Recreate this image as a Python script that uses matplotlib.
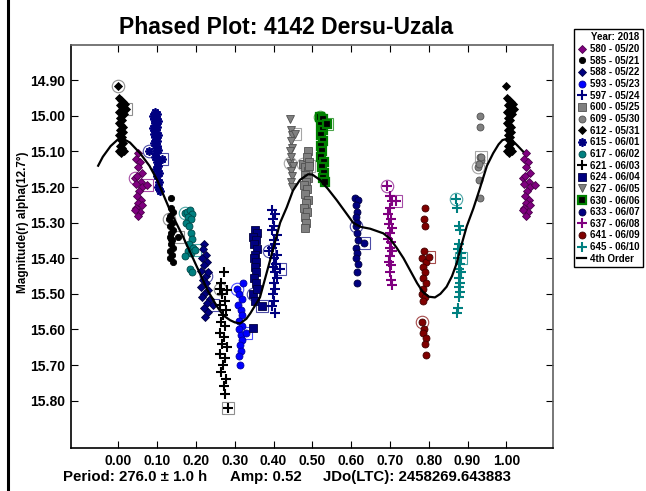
import matplotlib
matplotlib.use("Agg")
import matplotlib.pyplot as plt
from matplotlib.lines import Line2D

plt.rcParams["font.family"] = ["Liberation Sans", "DejaVu Sans"]
plt.rcParams["font.weight"] = "bold"

# -- data (phase, reduced magnitude) --
# first point of each session is the circled one, last point is the boxed one
p580 = [0.043, 0.050, 0.045, 0.055, 0.050, 0.060, 0.048, 0.058, 0.045, 0.060, 0.052, 0.048, 0.058, 0.050, 0.060, 0.045, 0.055, 0.050, 0.042, 0.074]
m580 = [15.175, 15.105, 15.120, 15.130, 15.145, 15.160, 15.170, 15.185, 15.190, 15.200, 15.210, 15.225, 15.235, 15.245, 15.250, 15.260, 15.270, 15.280, 15.265, 15.195]

p585 = [0.131, 0.137, 0.135, 0.140, 0.133, 0.138, 0.134, 0.140, 0.136, 0.132, 0.139, 0.135, 0.141, 0.134, 0.138, 0.133, 0.140, 0.136, 0.154]
m585 = [15.29, 15.23, 15.26, 15.27, 15.28, 15.30, 15.31, 15.32, 15.33, 15.34, 15.35, 15.36, 15.37, 15.38, 15.39, 15.40, 15.41, 15.345, 15.34]

p588 = [0.225, 0.222, 0.218, 0.225, 0.215, 0.228, 0.220, 0.212, 0.230, 0.218, 0.226, 0.214, 0.232, 0.222, 0.216, 0.235, 0.228, 0.220, 0.232, 0.224, 0.245]
m588 = [15.45, 15.36, 15.375, 15.39, 15.40, 15.41, 15.42, 15.435, 15.44, 15.46, 15.47, 15.48, 15.49, 15.50, 15.51, 15.515, 15.525, 15.54, 15.55, 15.565, 15.53]

p593 = [0.305, 0.322, 0.312, 0.318, 0.308, 0.315, 0.320, 0.310, 0.318, 0.312, 0.316, 0.320, 0.313, 0.317, 0.312, 0.314, 0.330]
m593 = [15.485, 15.47, 15.50, 15.515, 15.53, 15.545, 15.56, 15.575, 15.59, 15.60, 15.615, 15.63, 15.645, 15.66, 15.675, 15.70, 15.61]

p597 = [0.388, 0.395, 0.405, 0.398, 0.402, 0.396, 0.408, 0.400, 0.404, 0.397, 0.410, 0.401, 0.406, 0.399, 0.403, 0.408, 0.400, 0.405, 0.398, 0.402, 0.395, 0.405, 0.416]
m597 = [15.38, 15.265, 15.275, 15.29, 15.31, 15.32, 15.335, 15.35, 15.36, 15.37, 15.39, 15.40, 15.415, 15.425, 15.44, 15.455, 15.47, 15.485, 15.50, 15.52, 15.535, 15.555, 15.43]

p600 = [0.477, 0.490, 0.486, 0.492, 0.482, 0.488, 0.480, 0.490, 0.484, 0.478, 0.487, 0.481, 0.489, 0.483, 0.478, 0.486, 0.480, 0.484, 0.480, 0.492]
m600 = [15.135, 15.10, 15.115, 15.13, 15.145, 15.155, 15.165, 15.175, 15.185, 15.195, 15.205, 15.22, 15.235, 15.245, 15.26, 15.27, 15.285, 15.30, 15.315, 15.14]

p609 = [0.927, 0.932, 0.932, 0.932, 0.934, 0.930, 0.930, 0.932, 0.934]
m609 = [15.145, 15.00, 15.03, 15.115, 15.125, 15.135, 15.18, 15.23, 15.115]

p612 = [0.000, 0.002, 0.006, 0.012, 0.004, 0.010, 0.016, 0.002, 0.008, 0.014, 0.004, 0.010, 0.001, 0.007, 0.013, 0.005, 0.011, 0.003, 0.009, 0.006, 0.012, 0.004, 0.010, 0.002, 0.008, 0.015, 0.020]
m612 = [14.917, 14.950, 14.955, 14.960, 14.970, 14.975, 14.968, 14.990, 14.985, 14.995, 15.005, 15.012, 15.020, 15.025, 15.030, 15.040, 15.045, 15.055, 15.060, 15.068, 15.075, 15.085, 15.090, 15.100, 15.103, 15.100, 14.980]

p615 = [0.080, 0.095, 0.100, 0.090, 0.098, 0.092, 0.103, 0.095, 0.100, 0.090, 0.097, 0.093, 0.102, 0.095, 0.099, 0.092, 0.100, 0.096, 0.103, 0.098, 0.094, 0.105, 0.099, 0.102, 0.097, 0.104, 0.100, 0.106, 0.103, 0.108, 0.113]
m615 = [15.10, 14.99, 14.995, 15.00, 15.005, 15.01, 15.015, 15.02, 15.03, 15.035, 15.04, 15.05, 15.055, 15.06, 15.07, 15.075, 15.085, 15.09, 15.095, 15.105, 15.115, 15.125, 15.13, 15.14, 15.15, 15.16, 15.17, 15.185, 15.20, 15.21, 15.12]

p617 = [0.172, 0.178, 0.185, 0.190, 0.180, 0.188, 0.175, 0.182, 0.186, 0.190, 0.183, 0.192, 0.180, 0.188, 0.172, 0.185, 0.190, 0.198]
m617 = [15.274, 15.27, 15.265, 15.275, 15.285, 15.29, 15.30, 15.31, 15.33, 15.345, 15.36, 15.37, 15.38, 15.385, 15.395, 15.43, 15.44, 15.378]

p621 = [0.262, 0.273, 0.265, 0.280, 0.268, 0.275, 0.262, 0.278, 0.270, 0.265, 0.276, 0.262, 0.272, 0.268, 0.280, 0.262, 0.275, 0.270, 0.265, 0.278, 0.272, 0.276, 0.283]
m621 = [15.485, 15.44, 15.47, 15.49, 15.50, 15.52, 15.53, 15.545, 15.56, 15.58, 15.59, 15.61, 15.62, 15.64, 15.65, 15.67, 15.68, 15.70, 15.72, 15.74, 15.76, 15.78, 15.82]

p624 = [0.347, 0.352, 0.358, 0.348, 0.355, 0.350, 0.357, 0.352, 0.349, 0.356, 0.351, 0.355, 0.350, 0.354, 0.358, 0.353, 0.347, 0.370]
m624 = [15.50, 15.32, 15.33, 15.34, 15.35, 15.36, 15.375, 15.39, 15.40, 15.41, 15.425, 15.44, 15.455, 15.47, 15.485, 15.52, 15.597, 15.535]

p627 = [0.443, 0.442, 0.445, 0.448, 0.444, 0.447, 0.443, 0.446, 0.449, 0.444, 0.447, 0.445, 0.448, 0.455]
m627 = [15.133, 15.01, 15.04, 15.055, 15.07, 15.09, 15.10, 15.115, 15.14, 15.155, 15.17, 15.185, 15.20, 15.05]

p630 = [0.519, 0.527, 0.522, 0.528, 0.523, 0.527, 0.522, 0.526, 0.523, 0.529, 0.525, 0.530, 0.527, 0.532, 0.538]
m630 = [15.003, 15.01, 15.025, 15.04, 15.055, 15.07, 15.085, 15.10, 15.115, 15.13, 15.145, 15.16, 15.175, 15.185, 15.024]

p633 = [0.613, 0.610, 0.617, 0.612, 0.615, 0.613, 0.616, 0.614, 0.617, 0.612, 0.615, 0.613, 0.617, 0.615, 0.616, 0.633]
m633 = [15.31, 15.23, 15.235, 15.25, 15.27, 15.285, 15.30, 15.33, 15.35, 15.37, 15.385, 15.40, 15.415, 15.44, 15.47, 15.358]

p637 = [0.693, 0.700, 0.706, 0.700, 0.696, 0.703, 0.698, 0.705, 0.700, 0.696, 0.703, 0.699, 0.706, 0.701, 0.697, 0.704, 0.700, 0.703, 0.705, 0.715]
m637 = [15.198, 15.225, 15.24, 15.26, 15.275, 15.29, 15.305, 15.315, 15.33, 15.345, 15.355, 15.37, 15.38, 15.395, 15.41, 15.42, 15.44, 15.46, 15.475, 15.24]

p641 = [0.783, 0.790, 0.788, 0.790, 0.788, 0.782, 0.792, 0.786, 0.790, 0.784, 0.792, 0.786, 0.782, 0.790, 0.785, 0.788, 0.786, 0.792, 0.790, 0.794, 0.800]
m641 = [15.58, 15.258, 15.29, 15.31, 15.38, 15.40, 15.41, 15.425, 15.44, 15.455, 15.47, 15.485, 15.50, 15.51, 15.52, 15.60, 15.61, 15.625, 15.64, 15.672, 15.397]

p645 = [0.870, 0.874, 0.877, 0.880, 0.879, 0.875, 0.882, 0.876, 0.880, 0.877, 0.882, 0.878, 0.881, 0.877, 0.880, 0.878, 0.876, 0.874, 0.883]
m645 = [15.234, 15.26, 15.31, 15.32, 15.36, 15.375, 15.385, 15.40, 15.415, 15.43, 15.44, 15.455, 15.47, 15.48, 15.495, 15.51, 15.54, 15.555, 15.40]

# 4th order Fourier fit, traced
fit_phase = [-0.052, -0.04, -0.02, 0.0, 0.01, 0.03, 0.056, 0.08, 0.10, 0.133, 0.167, 0.205, 0.23, 0.254,
             0.27, 0.288, 0.30, 0.314, 0.33, 0.34, 0.365, 0.39, 0.417, 0.434, 0.45, 0.468, 0.489, 0.50,
             0.52, 0.54, 0.563, 0.585, 0.605, 0.625, 0.649, 0.683, 0.70, 0.717, 0.735, 0.752, 0.77,
             0.785, 0.80, 0.816, 0.83, 0.846, 0.86, 0.872, 0.885, 0.898, 0.915, 0.93, 0.95, 0.966,
             0.98, 0.99, 1.00, 1.01, 1.03, 1.043]
fit_mag = [15.140, 15.115, 15.085, 15.065, 15.063, 15.075, 15.105, 15.140, 15.180, 15.265, 15.340, 15.430,
           15.490, 15.535, 15.560, 15.574, 15.580, 15.583, 15.570, 15.555, 15.510, 15.410, 15.300, 15.257,
           15.210, 15.180, 15.164, 15.165, 15.180, 15.205, 15.237, 15.270, 15.300, 15.312, 15.317, 15.330,
           15.345, 15.370, 15.400, 15.434, 15.470, 15.495, 15.508, 15.510, 15.500, 15.480, 15.450, 15.414,
           15.360, 15.310, 15.260, 15.210, 15.140, 15.105, 15.080, 15.068, 15.065, 15.063, 15.085, 15.100]

xtick_vals = [0.0, 0.1, 0.2, 0.3, 0.4, 0.5, 0.6, 0.7, 0.8, 0.9, 1.0]
ytick_vals = [14.9, 15.0, 15.1, 15.2, 15.3, 15.4, 15.5, 15.6, 15.7, 15.8]

navy = "#000080"
series = [
    ("580 - 05/20", p580, m580, dict(marker="D", mfc="#800080", mec="#4a004a", ms=4.5)),
    ("585 - 05/21", p585, m585, dict(marker="o", mfc="black", mec="black", ms=4.5)),
    ("588 - 05/22", p588, m588, dict(marker="D", mfc=navy, mec="#000040", ms=4.5)),
    ("593 - 05/23", p593, m593, dict(marker="o", mfc="#0000ff", mec="#0000a0", ms=5)),
    ("597 - 05/24", p597, m597, dict(marker="+", mfc=navy, mec=navy, ms=7, mew=1.5)),
    ("600 - 05/25", p600, m600, dict(marker="s", mfc="#808080", mec="#505050", ms=5.5)),
    ("609 - 05/30", p609, m609, dict(marker="o", mfc="#808080", mec="#505050", ms=5)),
    ("612 - 05/31", p612, m612, dict(marker="D", mfc="black", mec="black", ms=4.5)),
    ("615 - 06/01", p615, m615, dict(marker=(8, 2, 0), mfc=navy, mec=navy, ms=6, mew=1.3)),
    ("617 - 06/02", p617, m617, dict(marker="o", mfc="#008080", mec="#004848", ms=5)),
    ("621 - 06/03", p621, m621, dict(marker="+", mfc="black", mec="black", ms=7, mew=1.5)),
    ("624 - 06/04", p624, m624, dict(marker="s", mfc=navy, mec="#000040", ms=5.5)),
    ("627 - 06/05", p627, m627, dict(marker="v", mfc="#808080", mec="#505050", ms=5.5)),
    ("630 - 06/06", p630, m630, dict(marker="s", mfc="black", mec="#008000", ms=5.5, mew=1.6)),
    ("633 - 06/07", p633, m633, dict(marker="o", mfc=navy, mec="#000040", ms=5)),
    ("637 - 06/08", p637, m637, dict(marker="+", mfc="#800080", mec="#800080", ms=7, mew=1.5)),
    ("641 - 06/09", p641, m641, dict(marker="o", mfc="#800000", mec="#400000", ms=5)),
    ("645 - 06/10", p645, m645, dict(marker="+", mfc="#008080", mec="#008080", ms=7, mew=1.5)),
]

fig = plt.figure(figsize=(6.46, 4.91), dpi=100)
ax = fig.add_axes([0.1099, 0.0876, 0.746, 0.8214])

handles = []
for label, ph, mg, st in series:
    st = dict(st)
    st.setdefault("mew", 0.6)
    h, = ax.plot(ph, mg, ls="none", zorder=3, **st)
    # points near phase 0 are repeated one cycle later
    wrap = [(p + 1.0, m) for p, m in zip(ph, mg) if p < 0.08]
    if wrap:
        ax.plot([w[0] for w in wrap], [w[1] for w in wrap], ls="none", zorder=3, **st)
    ring = st["mec"] if st["mfc"] == "black" and st["mec"] != "black" else st["mfc"]
    if ring == "black":
        ring = "#606060"
    ax.plot(ph[0], mg[0], "o", ms=9, mfc="none", mec=ring, mew=0.8, alpha=0.7, zorder=2)
    ax.plot(ph[-1], mg[-1], "s", ms=9, mfc="none", mec=ring, mew=0.8, alpha=0.7, zorder=2)
    handles.append(h)

fit_line, = ax.plot(fit_phase, fit_mag, color="black", lw=1.6, zorder=5)
handles.append(fit_line)
labels = [s[0] for s in series] + ["4th Order"]

ax.set_xlim(-0.122, 1.12)
ax.set_ylim(15.933, 14.80)
ax.set_xticks(xtick_vals)
ax.set_xticklabels([f"{v:.2f}" for v in xtick_vals])
ax.set_yticks(ytick_vals)
ax.set_yticklabels([f"{v:.2f}" for v in ytick_vals])
ax.tick_params(direction="in", length=5, top=True, right=True, labelsize=10, pad=4)
for t in ax.xaxis.get_major_ticks() + ax.yaxis.get_major_ticks():
    t.tick2line.set_color("#808080")
for s in ["top", "right"]:
    ax.spines[s].set_color("#606060")
for s in ax.spines.values():
    s.set_linewidth(1.2)

fig.text(0.443, 0.945, "Phased Plot: 4142 Dersu-Uzala", ha="center", va="center", fontsize=16.5, fontweight="bold")
fig.text(0.036, 0.548, "Magnitude(r) alpha(12.7°)", rotation=90, ha="center", va="center", fontsize=8.5, fontweight="bold")
fig.text(0.0975, 0.029, "Period: 276.0 ± 1.0 h", ha="left", va="center", fontsize=10.8, fontweight="bold")
fig.text(0.356, 0.029, "Amp: 0.52", ha="left", va="center", fontsize=10.8, fontweight="bold")
fig.text(0.500, 0.029, "JDo(LTC): 2458269.643883", ha="left", va="center", fontsize=10.8, fontweight="bold")

# window frame line on the left edge
fig.add_artist(Line2D([0.0125, 0.0125], [0.0, 1.0], color="black", lw=2.2, transform=fig.transFigure))

leg = fig.legend(handles, labels, loc="upper left", bbox_to_anchor=(0.889, 0.94), title="Year: 2018",
                 fontsize=7, title_fontsize=7, fancybox=False, edgecolor="black", framealpha=1,
                 borderpad=0.3, labelspacing=0.17, handlelength=0.9, handletextpad=0.4,
                 borderaxespad=0, alignment="right")
leg.get_frame().set_linewidth(1.0)
leg.get_title().set_fontweight("bold")

fig.savefig("out.png", dpi=100)
